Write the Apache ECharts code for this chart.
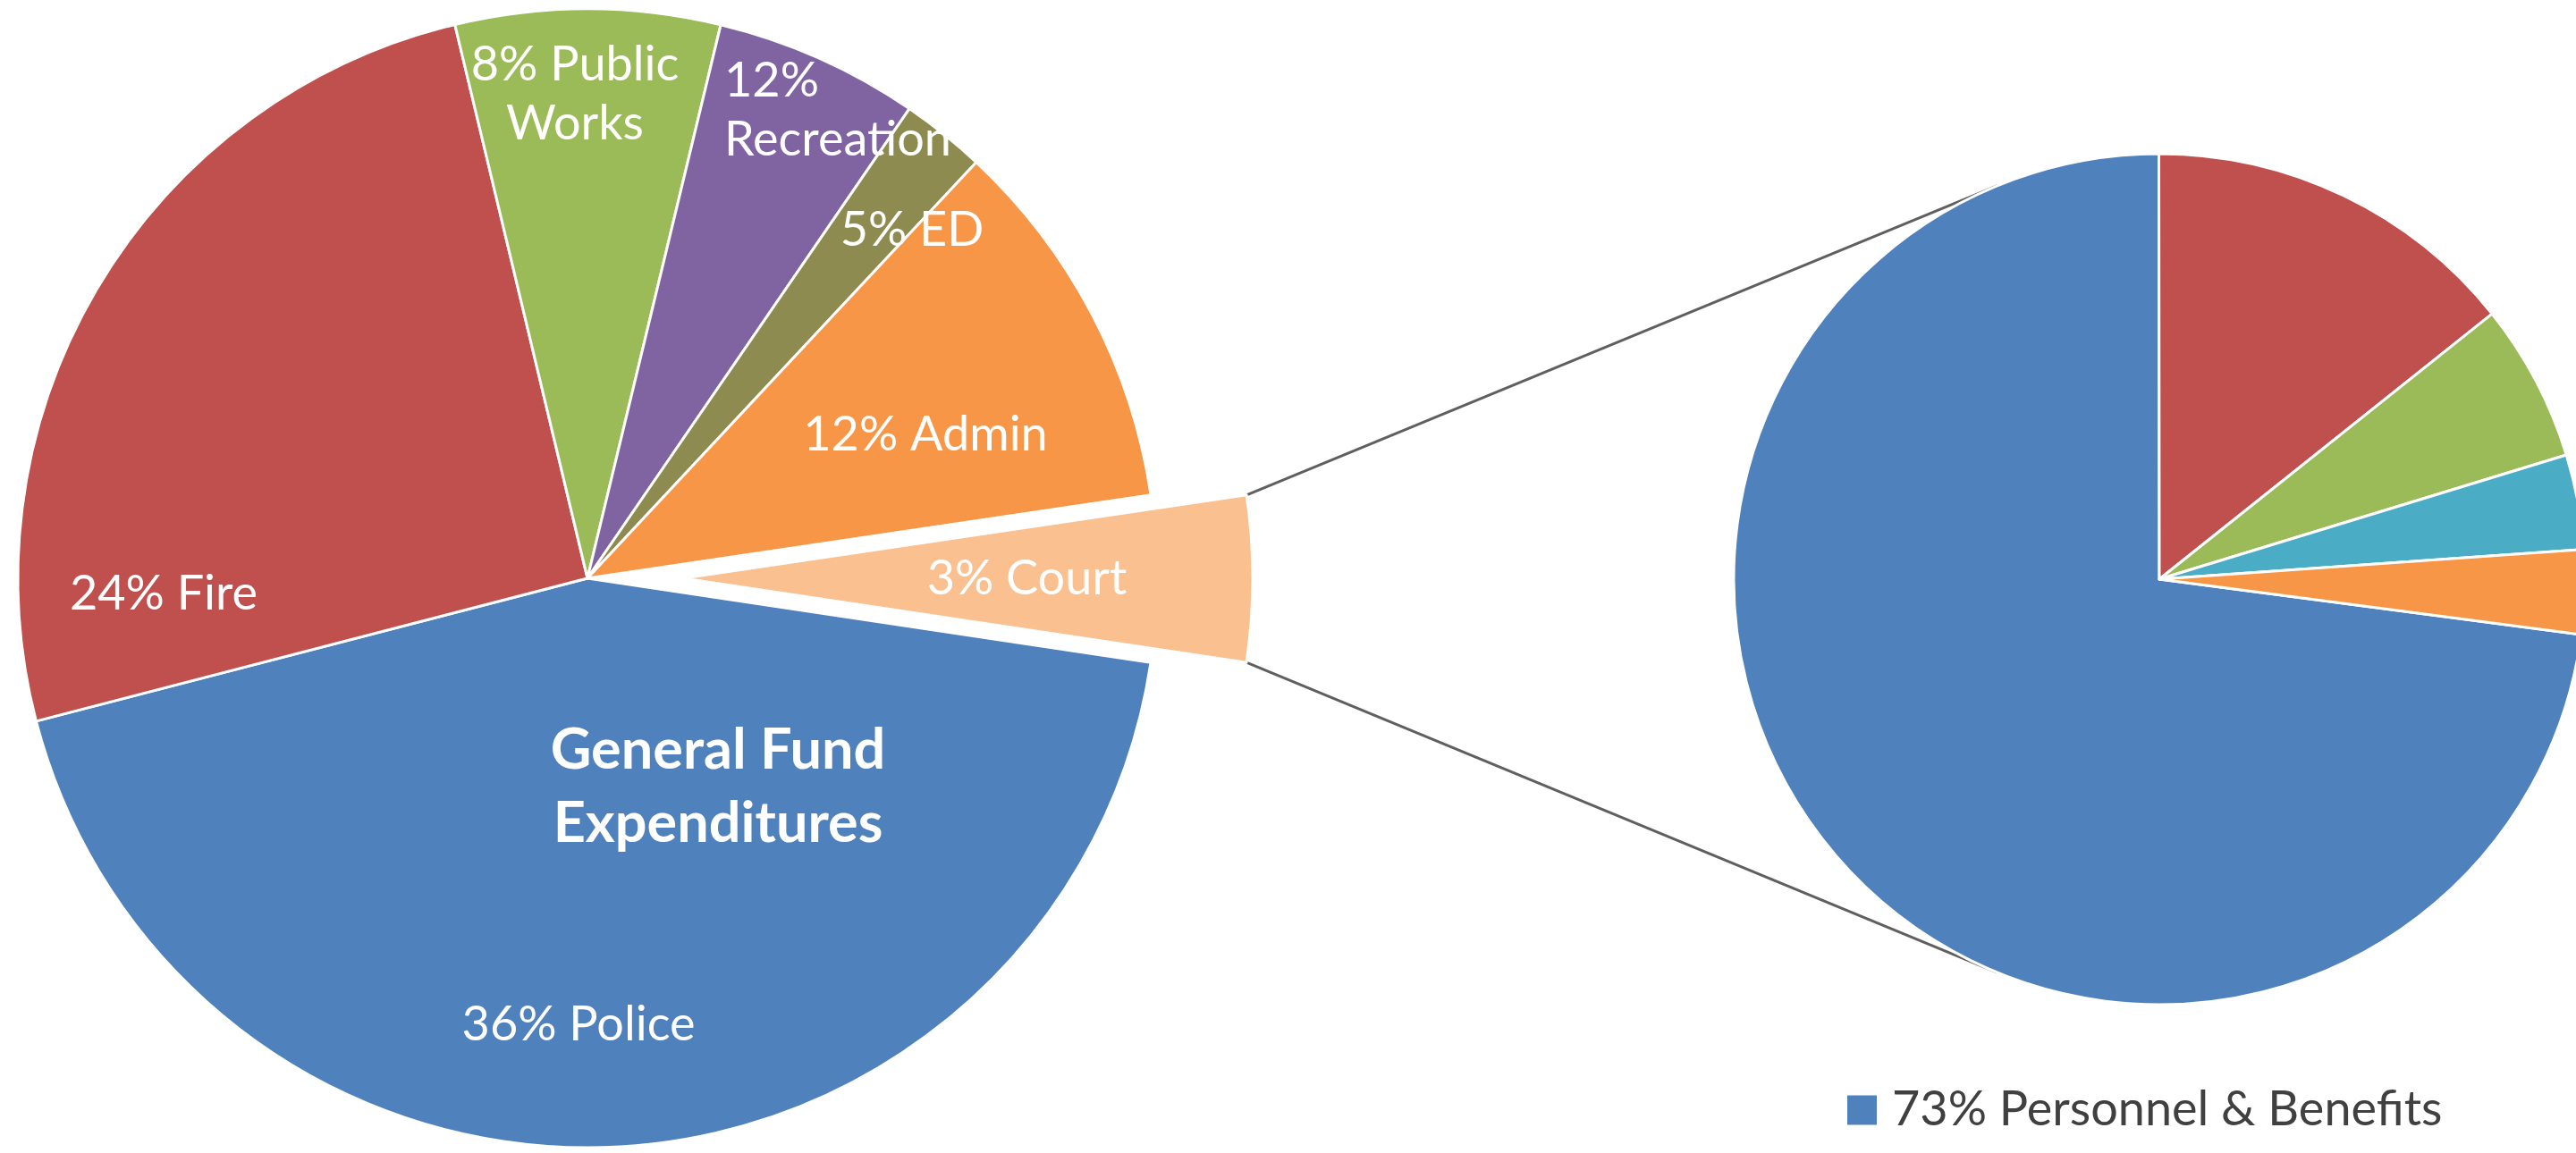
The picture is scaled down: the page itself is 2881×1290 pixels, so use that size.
<!DOCTYPE html>
<html>
<head>
<meta charset="utf-8">
<title>General Fund Expenditures</title>
<script src="https://cdn.jsdelivr.net/npm/echarts@6/dist/echarts.min.js"></script>
<style>
  html, body { margin: 0; padding: 0; background: #fff; }
  #chart { width: 2881px; height: 1290px; }
</style>
</head>
<body>
<div id="chart"></div>
<script>
// main pie, slice sizes as drawn (percent of the circle)
const fundNames = ['Police', 'Fire', 'Public Works', 'Recreation', 'ED', 'Admin', 'Court']
const fundShares = [43.6, 25.3, 7.5, 5.8, 2.4, 10.7, 4.7]
const fundLabels = ['36% Police', '24% Fire', '8% Public\nWorks', '12%\nRecreation', '5% ED', '12% Admin', '3% Court']
const fundColors = ['#4F81BD', '#C0504D', '#9BBB59', '#8064A2', '#8D8B4F', '#F79646', '#FAC090']

// breakdown pie of the exploded slice
const costNames = ['73% Personnel & Benefits', 'Cost 2', 'Cost 3', 'Cost 4', 'Cost 5']
const costShares = [72.9, 14.3, 6.0, 3.6, 3.2]
const costColors = ['#4F81BD', '#C0504D', '#9BBB59', '#4BACC6', '#F79646']

// layout
const LEFT = { cx: 657, cy: 647, r: 637, start: -8.5 }
const RIGHT = { cx: 2415, cy: 648, r: 476, start: -7.5 }
const EXPLODED = 6
const EXPLODE_OFFSET = 107
// label anchor offsets from the left pie centre (the exploded slice keeps its own inside label)
const labelSpots = [[-10, 500], [-474, 18], [-14, -541], [153, -523], [363, -389], [378, -160], null]
const labelAlign = ['center', 'center', 'center', 'left', 'center', 'center', 'center']
// push the exploded slice label a bit further out along the slice
const EXPLODED_LABEL_PAD = 126

const FONT = 'Lato, "Open Sans", sans-serif'

const chart = echarts.init(document.getElementById('chart'), null, { renderer: 'canvas' })

const option = {
    animation: false,
    backgroundColor: '#fff',
    legend: {
        data: [costNames[0]],
        left: 2059,
        top: 1210,
        icon: 'rect',
        itemWidth: 35,
        itemHeight: 35,
        selectedMode: false,
        textStyle: { fontFamily: FONT, fontSize: 54, color: '#404040', padding: [0, 0, 0, 11] }
    },
    series: [
        {
            type: 'pie',
            name: 'General Fund',
            center: [LEFT.cx, LEFT.cy],
            radius: LEFT.r,
            startAngle: LEFT.start,
            clockwise: true,
            selectedMode: 'single',
            selectedOffset: EXPLODE_OFFSET,
            itemStyle: { borderColor: '#fff', borderWidth: 3 },
            emphasis: { disabled: true },
            label: {
                show: true,
                position: 'inside',
                color: '#fff',
                fontFamily: FONT,
                fontSize: 54,
                lineHeight: 66,
                formatter: (p) => fundLabels[p.dataIndex]
            },
            labelLine: { show: false },
            labelLayout: (p) => {
                const spot = labelSpots[p.dataIndex]
                if (!spot) return {}
                return {
                    x: LEFT.cx + spot[0],
                    y: LEFT.cy + spot[1],
                    align: labelAlign[p.dataIndex],
                    verticalAlign: 'middle'
                }
            },
            data: fundNames.map((n, i) => {
                const item = {
                    name: n,
                    value: fundShares[i],
                    itemStyle: { color: fundColors[i] }
                }
                if (i === EXPLODED) {
                    item.selected = true
                    item.label = { padding: [0, 0, 0, EXPLODED_LABEL_PAD] }
                }
                return item
            })
        },
        {
            type: 'pie',
            name: 'Breakdown',
            center: [RIGHT.cx, RIGHT.cy],
            radius: RIGHT.r,
            startAngle: RIGHT.start,
            clockwise: true,
            itemStyle: { borderColor: '#fff', borderWidth: 3 },
            emphasis: { disabled: true },
            label: { show: false },
            labelLine: { show: false },
            data: costNames.map((n, i) => ({
                name: n,
                value: costShares[i],
                itemStyle: { color: costColors[i] }
            }))
        }
    ]
}

chart.setOption(option)

// connector lines from the exploded slice to the breakdown pie, from the library layout
function tangentPoint(p, c, upper) {
    const vx = p[0] - c.cx, vy = p[1] - c.cy
    const d = Math.hypot(vx, vy)
    const th = Math.atan2(vy, vx)
    const al = Math.acos(c.r / d)
    const pts = [th + al, th - al].map(a => [c.cx + c.r * Math.cos(a), c.cy + c.r * Math.sin(a)])
    pts.sort((a, b) => a[1] - b[1])
    return upper ? pts[0] : pts[1]
}

const model = chart.getModel()
const sl = model.getSeriesByIndex(0).getData().getItemLayout(EXPLODED)
const rl = model.getSeriesByIndex(1).getData().getItemLayout(0)
const mid = (sl.startAngle + sl.endAngle) / 2
const ox = Math.cos(mid) * EXPLODE_OFFSET
const oy = Math.sin(mid) * EXPLODE_OFFSET
const corners = [sl.startAngle, sl.endAngle]
    .map(a => [sl.cx + ox + sl.r * Math.cos(a), sl.cy + oy + sl.r * Math.sin(a)])
    .sort((a, b) => a[1] - b[1])
const target = { cx: rl.cx, cy: rl.cy, r: rl.r }
const upperEnd = tangentPoint(corners[0], target, true)
const lowerEnd = tangentPoint(corners[1], target, false)

chart.setOption({
    graphic: [
        {
            type: 'line', z: 1,
            shape: { x1: corners[0][0], y1: corners[0][1], x2: upperEnd[0], y2: upperEnd[1] },
            style: { stroke: '#5f5f5f', lineWidth: 3 }
        },
        {
            type: 'line', z: 1,
            shape: { x1: corners[1][0], y1: corners[1][1], x2: lowerEnd[0], y2: lowerEnd[1] },
            style: { stroke: '#5f5f5f', lineWidth: 3 }
        },
        {
            type: 'text', z: 10,
            x: 803, y: 881,
            style: {
                text: 'General Fund\nExpenditures',
                fill: '#fff',
                fontFamily: FONT,
                fontWeight: 'bold',
                fontSize: 63,
                lineHeight: 82,
                align: 'center',
                verticalAlign: 'middle'
            }
        }
    ]
})

window.addEventListener('resize', () => chart.resize())
</script>
</body>
</html>
